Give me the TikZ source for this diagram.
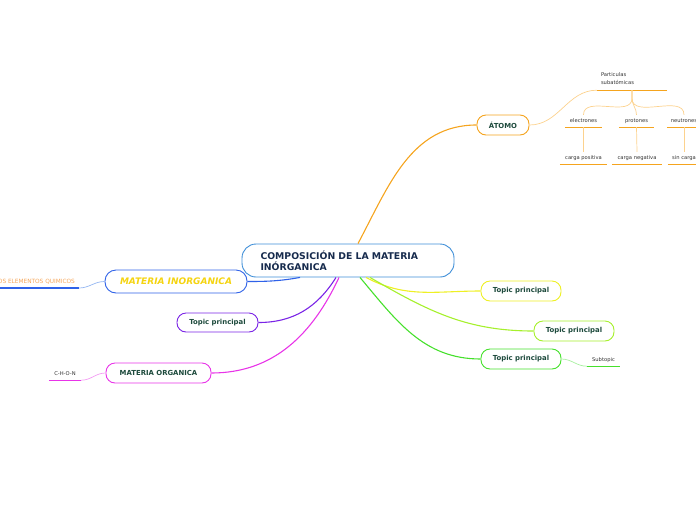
\documentclass[tikz,border=0pt]{standalone}
\usepackage{fontspec}
\setmainfont{DejaVu Sans}

\definecolor{maintext}{HTML}{172B4D}
\definecolor{topictext}{HTML}{1D4A3C}
\definecolor{subtext}{HTML}{333333}
\definecolor{centralblue}{HTML}{3F8FD8}
\definecolor{inorgblue}{HTML}{2F62E8}
\definecolor{lightblue}{HTML}{93B6F2}
\definecolor{inorgyellow}{HTML}{F5D410}
\definecolor{atomorange}{HTML}{F5A41E}
\definecolor{lightorange}{HTML}{FCD28E}
\definecolor{elemorange}{HTML}{F5A65A}
\definecolor{topicpurple}{HTML}{7A24E6}
\definecolor{topicmagenta}{HTML}{E834E8}
\definecolor{lightmagenta}{HTML}{F39CF3}
\definecolor{topicyellow}{HTML}{EEF024}
\definecolor{topiclime}{HTML}{A6F02C}
\definecolor{topicgreen}{HTML}{46E02C}
\definecolor{lightgreen}{HTML}{A8F0A0}

\begin{document}
\begin{tikzpicture}[x = 1pt, y = -1pt, > = latex,
	topic/.style = {draw, fill = white, line width = 0.9pt, rounded corners = 9pt,
		minimum width = 80pt, minimum height = 20pt, inner sep = 0pt,
		text = topictext, font = \fontsize{6.9}{8}\selectfont\bfseries},
	subtopic/.style = {minimum height = 12pt, inner sep = 0pt,
		text = subtext, font = \fontsize{5.2}{6.4}\selectfont},
	branch/.style = {line width = 1.1pt},
	twig/.style = {line width = 0.7pt}]

% The page

\useasboundingbox (0, 0) rectangle (696, 520);

% The central topic

\node [draw = centralblue, fill = white, line width = 0.9pt, rounded corners = 14pt,
	minimum width = 212pt, minimum height = 33pt, inner xsep = 18.5pt, inner ysep = 0pt,
	text width = 175pt, align = left, text = maintext,
	font = \fontsize{9.3}{11}\selectfont\bfseries] (central) at (348, 260.5)
	{COMPOSICIÓN DE LA MATERIA\\INÓRGANICA};

% The main topics

\node [topic, draw = atomorange, minimum width = 52pt] (atomo) at (503, 125) {ÁTOMO};
\node [topic, draw = inorgblue, minimum width = 142pt, minimum height = 23pt,
	rounded corners = 11pt, text = inorgyellow,
	font = \fontsize{9}{11}\selectfont\bfseries\itshape] (inorg) at (176, 281.5) {MATERIA INORGANICA};
\node [topic, draw = topicpurple, minimum width = 81pt, minimum height = 19pt] (purple) at (217.5, 322.5) {Topic principal};
\node [topic, draw = topicmagenta, minimum width = 105pt] (organica) at (158.5, 373) {MATERIA ORGANICA};
\node [topic, draw = topicyellow] (yellow) at (521, 291) {Topic principal};
\node [topic, draw = topiclime] (lime) at (574, 331) {Topic principal};
\node [topic, draw = topicgreen] (green) at (521, 359) {Topic principal};

% The subtopics

\node [subtopic, minimum height = 22pt, inner xsep = 4pt, text width = 62pt, align = left,
	font = \fontsize{5.2}{8}\selectfont] (particulas) at (632, 79) {Particulas\\subatómicas};
\node [subtopic, minimum width = 37pt] (electrones) at (583.5, 121) {electrones};
\node [subtopic, minimum width = 35pt] (protones) at (636.5, 121) {protones};
\node [subtopic, minimum width = 34pt] (neutrones) at (684, 121) {neutrones};
\node [subtopic, minimum width = 47pt] (positiva) at (583.5, 158) {carga positiva};
\node [subtopic, minimum width = 50pt] (negativa) at (637, 158) {carga negativa};
\node [subtopic, minimum width = 32pt] (sincarga) at (684, 158) {sin carga};
\node [subtopic, minimum width = 33pt] (subtopic) at (603.5, 360) {Subtopic};
\node [subtopic, minimum width = 32pt] (chon) at (65, 374) {C-H-O-N};
\node [subtopic, anchor = south east, inner xsep = 4pt, text = elemorange,
	font = \fontsize{5.8}{7}\selectfont] (elementos) at (79, 288) {LOS ELEMENTOS QUIMICOS};

% The underlines

\foreach \n in {particulas, electrones, protones, neutrones, positiva, negativa, sincarga}
	\draw [atomorange, line width = 1.3pt] (\n.south west) -- (\n.south east);
\draw [topicgreen, line width = 1.3pt] (subtopic.south west) -- (subtopic.south east);
\draw [topicmagenta, line width = 1.3pt] (chon.south west) -- (chon.south east);
\draw [inorgblue, line width = 1.3pt] (elementos.south west) -- (elementos.south east);

% The main branches

\draw [branch, atomorange] ([xshift = 10pt] central.north) to [out = 62, in = 180] (atomo.west);
\draw [branch, inorgblue] ([xshift = -48pt] central.south) to [out = 190, in = 0] (inorg.east);
\draw [branch, topicpurple] ([xshift = -12pt] central.south) to [out = 238, in = 0] (purple.east);
\draw [branch, topicmagenta] ([xshift = -9pt] central.south) to [out = 245, in = 0] (organica.east);
\draw [branch, topicyellow] ([xshift = 18pt] central.south) to [out = -28, in = 180] (yellow.west);
\draw [branch, topiclime] ([xshift = 22pt] central.south) to [out = -30, in = 180] (lime.west);
\draw [branch, topicgreen] ([xshift = 12pt] central.south) to [out = -50, in = 180] (green.west);

% The twigs

\draw [twig, lightorange] (atomo.east) to [out = 0, in = 180] (particulas.south west);
\foreach \n in {electrones, protones, neutrones}
	\draw [twig, lightorange] (particulas.south) -- ++(0, 8) to [out = 270, in = 90] (\n.north);
\draw [twig, lightorange] (electrones.south) -- (positiva.north);
\draw [twig, lightorange] (protones.south) -- (negativa.north);
\draw [twig, lightorange] (neutrones.south) -- (sincarga.north);
\draw [twig, lightgreen] (green.east) to [out = 0, in = 180] (subtopic.south west);
\draw [twig, lightmagenta] (organica.west) to [out = 180, in = 0] (chon.south east);
\draw [twig, lightblue] (inorg.west) to [out = 180, in = 0] (elementos.south east);

\end{tikzpicture}
\end{document}
